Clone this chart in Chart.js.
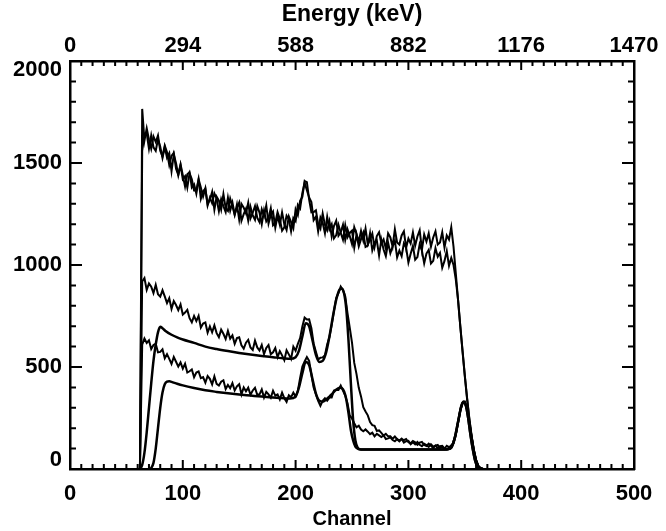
<!DOCTYPE html>
<html>
<head>
<meta charset="utf-8">
<script src="https://cdn.jsdelivr.net/npm/chart.js@4.4.1/dist/chart.umd.min.js"></script>
<style>
  html, body { margin: 0; padding: 0; background: #fff; }
  #wrap { width: 666px; height: 531px; }
</style>
</head>
<body>
<div id="wrap"><canvas id="spectrum" width="666" height="531"></canvas></div>
<script>
// Axis tick labels
const channelTicks = [0, 100, 200, 300, 400, 500];
const energyTicks = [0, 294, 588, 882, 1176, 1470];
const countTicks = [0, 500, 1000, 1500, 2000];

// Channels at which the measured spectra are sampled
const measuredChannels = [
  62, 64, 66, 68, 70, 72, 74, 76, 78, 80,
  82, 84, 86, 88, 90, 92, 94, 96, 98, 100,
  102, 104, 106, 108, 110, 112, 114, 116, 118, 120,
  122, 124, 126, 128, 130, 132, 134, 136, 138, 140,
  142, 144, 146, 148, 150, 152, 154, 156, 158, 160,
  162, 164, 166, 168, 170, 172, 174, 176, 178, 180,
  182, 184, 186, 188, 190, 192, 194, 196, 198, 200,
  202, 204, 206, 208, 210, 212, 214, 216, 218, 220,
  222, 224, 226, 228, 230, 232, 234, 236, 238, 240,
  242, 244, 246, 248, 250, 252, 254, 256, 258, 260,
  262, 264, 266, 268, 270, 272, 274, 276, 278, 280,
  282, 284, 286, 288, 290, 292, 294, 296, 298, 300,
  302, 304, 306, 308, 310, 312, 314, 316, 318, 320,
  322, 324, 326, 328, 330, 332, 334, 336, 338, 340,
  342, 344, 346, 348, 350, 352, 354, 356, 358, 360,
  362, 364, 366
];

// Measured counts, upper pair of spectra
const measuredHighA = [
  0, 1765, 1610, 1670, 1615, 1570, 1630, 1603, 1635, 1560,
  1533, 1586, 1553, 1490, 1535, 1550, 1472, 1443, 1494, 1440,
  1385, 1445, 1455, 1380, 1395, 1350, 1420, 1380, 1335, 1375,
  1297, 1320, 1358, 1271, 1335, 1316, 1272, 1348, 1279, 1265,
  1326, 1288, 1245, 1296, 1222, 1299, 1281, 1253, 1305, 1228,
  1256, 1289, 1232, 1210, 1273, 1240, 1292, 1203, 1245, 1262,
  1183, 1240, 1197, 1258, 1200, 1172, 1238, 1210, 1180, 1273,
  1245, 1315, 1334, 1412, 1406, 1320, 1258, 1260, 1268, 1200,
  1178, 1252, 1196, 1170, 1215, 1140, 1191, 1217, 1143, 1160,
  1197, 1123, 1175, 1142, 1103, 1185, 1152, 1114, 1167, 1120,
  1178, 1101, 1125, 1154, 1088, 1142, 1161, 1106, 1125, 1080,
  1155, 1135, 1090, 1175, 1110, 1100, 1145, 1165, 1085, 1130,
  1105, 1160, 1095, 1140, 1170, 1075, 1150, 1115, 1155, 1090,
  1135, 1165, 1100, 1110, 1160, 1085, 1145, 1125, 1185, 1090,
  960, 830, 700, 580, 460, 350, 250, 165, 95, 45,
  15, 4, 0
];
const measuredHighB = [
  0, 1560, 1640, 1645, 1570, 1635, 1577, 1560, 1617, 1580,
  1525, 1578, 1526, 1548, 1460, 1542, 1499, 1440, 1490, 1420,
  1435, 1380, 1450, 1420, 1365, 1365, 1420, 1325, 1362, 1375,
  1292, 1330, 1303, 1351, 1325, 1264, 1323, 1288, 1259, 1330,
  1266, 1307, 1248, 1280, 1306, 1217, 1249, 1276, 1218, 1285,
  1243, 1221, 1289, 1257, 1200, 1267, 1214, 1231, 1278, 1195,
  1207, 1259, 1226, 1168, 1185, 1242, 1224, 1165, 1230, 1215,
  1295, 1277, 1353, 1403, 1366, 1331, 1309, 1220, 1237, 1165,
  1233, 1207, 1156, 1236, 1175, 1200, 1130, 1146, 1197, 1158,
  1124, 1195, 1136, 1157, 1168, 1084, 1150, 1091, 1127, 1158,
  1089, 1095, 1156, 1072, 1108, 1120, 1047, 1124, 1076, 1043,
  1110, 1058, 1091, 1119, 1037, 1070, 1043, 1106, 1084, 1012,
  1055, 1093, 1026, 1039, 1102, 1070, 1008, 1056, 1074, 1007,
  1020, 1083, 1041, 1059, 987, 1020, 1068, 996, 1035, 1000,
  930, 830, 700, 575, 455, 345, 245, 160, 90, 40,
  12, 3, 0
];
// Measured counts, middle spectrum
const measuredMid = [
  0, 919, 936, 878, 910, 894, 862, 903, 857, 845,
  876, 846, 813, 837, 785, 823, 804, 779, 807, 757,
  767, 780, 739, 719, 750, 725, 751, 693, 713, 718,
  668, 699, 670, 704, 666, 646, 683, 663, 637, 677,
  639, 655, 614, 642, 646, 606, 590, 619, 633, 596,
  584, 629, 596, 581, 608, 563, 593, 608, 563, 572,
  593, 548, 578, 557, 533, 582, 562, 540, 600, 580,
  613, 641, 699, 742, 733, 734, 690, 614, 575, 537,
  546, 547, 558, 610, 647, 705, 774, 838, 862, 894,
  876, 847, 764, 693, 619, 520, 465, 398, 356, 303,
  282, 263, 230, 215, 212, 187, 189, 177, 164, 172,
  160, 160, 148, 159, 146, 136, 147, 141, 147, 131,
  126, 137, 131, 119, 129, 133, 118, 113, 124, 114,
  103, 115, 118, 103, 107, 99, 114, 107, 104, 136,
  170, 230, 290, 325, 330, 295, 230, 160, 95, 45,
  15, 4, 0
];
// Measured counts, lower spectrum
const measuredLow = [
  0, 610, 640, 618, 631, 588, 608, 614, 572, 574,
  587, 543, 563, 540, 515, 549, 526, 502, 522, 492,
  516, 473, 479, 488, 450, 473, 478, 445, 450, 423,
  456, 442, 415, 454, 417, 409, 428, 435, 392, 412,
  396, 421, 385, 405, 416, 366, 400, 381, 399, 364,
  385, 398, 364, 366, 390, 350, 378, 366, 349, 384,
  360, 366, 341, 374, 347, 329, 362, 352, 374, 355,
  383, 446, 502, 527, 549, 530, 462, 399, 367, 334,
  310, 334, 347, 335, 350, 350, 385, 388, 387, 409,
  384, 360, 322, 263, 247, 224, 204, 212, 193, 185,
  194, 183, 171, 178, 160, 172, 165, 157, 165, 147,
  150, 155, 142, 136, 147, 139, 148, 129, 136, 138,
  121, 131, 121, 132, 119, 112, 124, 117, 108, 121,
  109, 115, 102, 112, 114, 101, 96, 106, 116, 125,
  165, 225, 285, 320, 326, 292, 228, 158, 92, 42,
  14, 4, 0
];

// Fitted response curves
const fitMidChannels = [
  62, 64, 66, 68, 70, 72, 74, 76, 78, 80,
  82, 85, 90, 95, 100, 110, 120, 130, 140, 150,
  160, 170, 180, 190, 195, 200, 203, 206, 209, 212,
  215, 218, 221, 224, 227, 230, 233, 236, 239, 241,
  243, 245, 247, 249, 251, 253, 255, 258, 270, 300,
  330, 335, 338, 341, 344, 347, 349, 351, 353, 355,
  357, 359, 361, 363, 366
];
const fitMid = [
  0, 20, 80, 180, 300, 420, 530, 610, 670, 697,
  690, 675, 658, 645, 635, 618, 600, 588, 578, 569,
  561, 554, 548, 542, 540, 548, 580, 650, 715, 700,
  630, 560, 525, 530, 570, 650, 745, 830, 880, 885,
  860, 780, 620, 420, 240, 140, 105, 96, 95, 95,
  95, 97, 105, 150, 230, 310, 330, 310, 250, 170,
  100, 45, 15, 5, 0
];
const fitLowChannels = [
  70, 72, 74, 76, 78, 80, 82, 84, 86, 88,
  90, 95, 100, 110, 120, 130, 140, 150, 160, 170,
  180, 190, 195, 200, 203, 206, 209, 212, 215, 218,
  221, 224, 227, 230, 233, 236, 239, 241, 243, 245,
  247, 249, 251, 253, 255, 258, 270, 300, 330, 335,
  338, 341, 344, 347, 349, 351, 353, 355, 357, 359,
  361, 363, 366
];
const fitLow = [
  0, 5, 30, 100, 200, 300, 375, 415, 428, 430,
  427, 418, 410, 397, 386, 378, 371, 365, 360, 355,
  351, 347, 345, 355, 400, 470, 525, 510, 440, 370,
  335, 330, 340, 355, 372, 388, 398, 396, 380, 340,
  270, 190, 140, 110, 100, 96, 95, 95, 95, 97,
  105, 150, 230, 310, 330, 310, 250, 170, 100, 45,
  15, 5, 0
];

const pairs = (xs, ys) => xs.map((x, i) => ({ x, y: ys[i] }));

const FONT = "'Liberation Sans', Arial, Helvetica, sans-serif";

// Inward tick marks on all four sides
const inwardTicks = {
  id: 'inwardTicks',
  afterDraw(chart) {
    const { ctx, chartArea: a, scales } = chart;
    ctx.save();
    ctx.strokeStyle = '#000';
    ctx.lineWidth = 2;
    ctx.beginPath();
    for (let c = 0; c <= 500; c += 10) {
      const px = scales.x.getPixelForValue(c);
      const len = c % 100 === 0 ? 9 : 5;
      ctx.moveTo(px, a.bottom);
      ctx.lineTo(px, a.bottom - len);
    }
    for (let k = 0; k <= 50; k++) {
      const px = scales.xTop.getPixelForValue(k * 29.4);
      const len = k % 10 === 0 ? 9 : 5;
      ctx.moveTo(px, a.top);
      ctx.lineTo(px, a.top + len);
    }
    for (let v = 0; v <= 2000; v += 100) {
      const py = scales.y.getPixelForValue(v);
      const len = v % 500 === 0 ? 12 : 6;
      ctx.moveTo(a.left, py);
      ctx.lineTo(a.left + len, py);
      ctx.moveTo(a.right, py);
      ctx.lineTo(a.right - len, py);
    }
    ctx.stroke();
    ctx.restore();
  }
};

const noisy = { borderColor: '#000', borderWidth: 2, pointRadius: 0, tension: 0, fill: false };
const smooth = { borderColor: '#000', borderWidth: 2.5, pointRadius: 0, cubicInterpolationMode: 'monotone', fill: false };

// End labels of the count axis sit inside the frame
const countLabel = v => v === 2000 ? ['', '2000'] : v === 0 ? ['0', ''] : String(v);

new Chart(document.getElementById('spectrum'), {
  type: 'line',
  data: {
    datasets: [
      { ...noisy, label: 'Measured A', data: pairs(measuredChannels, measuredHighA) },
      { ...noisy, label: 'Measured B', data: pairs(measuredChannels, measuredHighB) },
      { ...noisy, label: 'Measured C', data: pairs(measuredChannels, measuredMid) },
      { ...noisy, label: 'Measured D', data: pairs(measuredChannels, measuredLow) },
      { ...smooth, label: 'Fit C', data: pairs(fitMidChannels, fitMid) },
      { ...smooth, label: 'Fit D', data: pairs(fitLowChannels, fitLow) }
    ]
  },
  options: {
    responsive: false,
    animation: false,
    devicePixelRatio: 1,
    layout: { padding: 0 },
    plugins: { legend: { display: false }, tooltip: { enabled: false } },
    scales: {
      x: {
        type: 'linear', position: 'bottom', min: 0, max: 500,
        afterBuildTicks: s => { s.ticks = channelTicks.map(v => ({ value: v })); },
        afterFit: s => { s.height = 62; },
        grid: { display: false, drawTicks: false },
        border: { display: true, color: '#000', width: 2.5 },
        ticks: { color: '#000', padding: 12, maxRotation: 0, autoSkip: false,
                 font: { family: FONT, size: 22, weight: 'bold' }, callback: v => String(v) },
        title: { display: true, text: 'Channel', color: '#000',
                 font: { family: FONT, size: 20, weight: 'bold' }, padding: { top: 0, bottom: 0 } }
      },
      xTop: {
        type: 'linear', position: 'top', min: 0, max: 1470,
        afterBuildTicks: s => { s.ticks = energyTicks.map(v => ({ value: v })); },
        afterFit: s => { s.height = 61; },
        grid: { display: false, drawTicks: false },
        border: { display: true, color: '#000', width: 2.5 },
        ticks: { color: '#000', padding: 2, maxRotation: 0, autoSkip: false,
                 font: { family: FONT, size: 22, weight: 'bold' }, callback: v => String(v) },
        title: { display: true, text: 'Energy (keV)', color: '#000',
                 font: { family: FONT, size: 23, weight: 'bold' }, padding: { top: 1, bottom: 0 } }
      },
      y: {
        type: 'linear', position: 'left', min: 0, max: 2000,
        afterBuildTicks: s => { s.ticks = countTicks.map(v => ({ value: v })); },
        afterFit: s => { s.width = 70; },
        grid: { display: false, drawTicks: false },
        border: { display: true, color: '#000', width: 2.5 },
        ticks: { color: '#000', padding: 8, autoSkip: false,
                 font: { family: FONT, size: 22, weight: 'bold', lineHeight: 0.8 }, callback: countLabel }
      },
      yRight: {
        type: 'linear', position: 'right', min: 0, max: 2000,
        afterFit: s => { s.width = 32; },
        grid: { display: false, drawTicks: false },
        border: { display: true, color: '#000', width: 2.5 },
        ticks: { display: false }
      }
    }
  },
  plugins: [inwardTicks]
});
</script>
</body>
</html>
